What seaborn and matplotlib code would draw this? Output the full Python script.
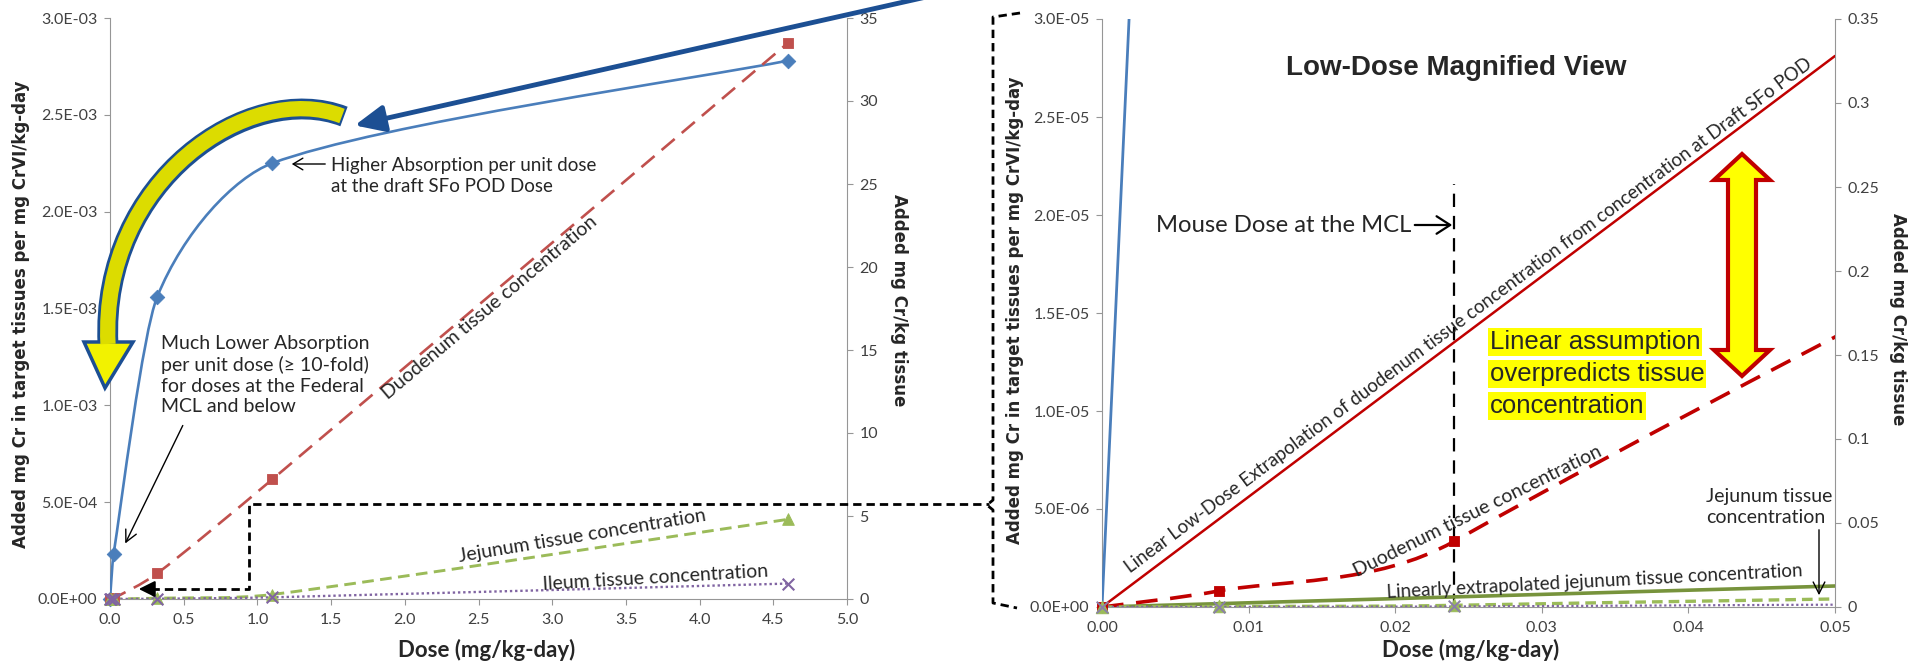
import numpy as np
import pandas as pd
import seaborn as sns
import matplotlib
matplotlib.use("Agg")
import matplotlib.pyplot as plt
from matplotlib.path import Path
from matplotlib.patches import PathPatch, FancyArrowPatch, Polygon
from matplotlib.lines import Line2D
from matplotlib.ticker import FuncFormatter

W, H = 1915, 666

# ---- data ----
dose = [0, 0.008, 0.024, 0.32, 1.1, 4.6]
duodenum = [0, 0.0096, 0.039, 1.54, 7.2, 33.5]      # mg Cr/kg tissue (right axis)
jejunum = [0, 0.0003, 0.001, 0.05, 0.27, 4.8]
ileum = [0, 0.0001, 0.0003, 0.015, 0.1, 0.93]

absorption_dose = [0, 0.024, 0.32, 1.1, 4.6]
absorption = [0, 2.3e-4, 1.56e-3, 2.25e-3, 2.78e-3]  # mg Cr per mg CrVI/kg-day (left axis)
low_absorption_dose = [0, 0.008]
low_absorption = [0, 1.3e-4]

# linear low-dose extrapolation from the POD
extrap_dose = [0, 0.05]
duodenum_linear = [0, 0.328]
jejunum_linear = [0, 0.0125]

mcl_dose = 0.024
mcl_top = 2.16e-5

BLUE = "#4A7EBB"
RED = "#C0504D"
DARKRED = "#C00000"
GREEN = "#9BBB59"
OLIVE = "#77933C"
PURPLE = "#8064A2"
NAVY = "#1C4F93"
GREY = "#969696"

sns.set_style("white")
plt.rcParams["font.family"] = ["Lato", "DejaVu Sans"]
FAM = ["Lato", "DejaVu Sans"]


def P(x, y):
    return (x / W, 1 - y / H)


def smooth_path(xs, ys):
    # excel style smoothed line as cubic bezier segments
    pts = np.column_stack([xs, ys]).astype(float)
    n = len(pts)
    verts = [pts[0]]
    codes = [Path.MOVETO]
    for i in range(n - 1):
        p0 = pts[max(i - 1, 0)]
        p1, p2 = pts[i], pts[i + 1]
        p3 = pts[min(i + 2, n - 1)]
        lim = (p2[0] - p1[0]) / 3
        t1 = (p2 - p0) / 6
        t2 = (p3 - p1) / 6
        if t1[0] > lim:
            t1 = t1 * lim / t1[0]
        if t2[0] > lim:
            t2 = t2 * lim / t2[0]
        verts += [p1 + t1, p2 - t2, p2]
        codes += [Path.CURVE4] * 3
    return Path(verts, codes)


def smooth_line(ax, xs, ys, **kw):
    ax.add_patch(PathPatch(smooth_path(xs, ys), fill=False, **kw))


def style(ax, ax2):
    for s in ["top", "right"]:
        ax.spines[s].set_visible(False)
    for s in ["top", "left", "bottom"]:
        ax2.spines[s].set_visible(False)
    for s in ["left", "bottom"]:
        ax.spines[s].set_color(GREY)
    ax2.spines["right"].set_color(GREY)
    ax.tick_params(left=True, bottom=True, length=4, color=GREY, labelcolor="#404040", labelsize=11.5)
    ax.tick_params(axis="x", pad=6)
    ax.tick_params(axis="y", pad=5)
    ax2.tick_params(right=True, left=False, bottom=False, length=4, color=GREY,
                    labelcolor="#404040", labelsize=11.5, pad=5)
    ax.set_xlabel("")
    ax.set_ylabel("")
    ax2.set_ylabel("")


def arrow(p0, p1, style_str, scale=14, **kw):
    fig.add_artist(FancyArrowPatch(P(*p0), P(*p1), transform=fig.transFigure,
                                   arrowstyle=style_str, mutation_scale=scale, **kw))


fig = plt.figure(figsize=(W / 100, H / 100), dpi=100)

# ---------------- full dose range ----------------
axL = fig.add_axes([110 / W, 1 - 599 / H, 737 / W, 581 / H])
axL2 = axL.twinx()

smooth_line(axL, absorption_dose, absorption, edgecolor=BLUE, lw=1.9, zorder=3)
sns.scatterplot(x=absorption_dose, y=absorption, ax=axL, marker="D", s=55, color=BLUE,
                edgecolor=BLUE, zorder=5, clip_on=False, legend=False)

smooth_line(axL2, dose, duodenum, edgecolor=RED, lw=1.9, linestyle=(0, (6.5, 3.5)), zorder=3)
smooth_line(axL2, dose, jejunum, edgecolor=GREEN, lw=2.1, linestyle=(0, (4, 2.2)), zorder=3)
smooth_line(axL2, dose, ileum, edgecolor=PURPLE, lw=1.7, linestyle=(0, (1, 1.2)), zorder=3)
sns.scatterplot(x=dose, y=duodenum, ax=axL2, marker="s", s=60, color=RED, edgecolor=RED,
                zorder=5, clip_on=False, legend=False)
sns.scatterplot(x=dose, y=jejunum, ax=axL2, marker="^", s=70, color=GREEN, edgecolor=GREEN,
                zorder=5, clip_on=False, legend=False)
sns.scatterplot(x=dose, y=ileum, ax=axL2, marker="x", s=70, color=PURPLE, linewidth=1.5,
                zorder=6, clip_on=False, legend=False)

axL.set_xlim(0, 5)
axL.set_ylim(0, 3e-3)
axL2.set_ylim(0, 35)
axL.set_xticks(np.arange(0, 5.01, 0.5))
axL.set_yticks(np.arange(0, 3.01e-3, 5e-4))
axL2.set_yticks(np.arange(0, 36, 5))
axL.xaxis.set_major_formatter(FuncFormatter(lambda v, _: f"{v:.1f}"))
axL.yaxis.set_major_formatter(FuncFormatter(lambda v, _: f"{v:.1E}"))
style(axL, axL2)

# ---------------- magnified view ----------------
axR = fig.add_axes([1102 / W, 1 - 607 / H, 733 / W, 588 / H])
axR2 = axR.twinx()

low = pd.DataFrame({"dose": dose, "duodenum": duodenum, "jejunum": jejunum, "ileum": ileum})
low = low[low["dose"] <= 0.05]

sns.lineplot(x=low_absorption_dose, y=low_absorption, ax=axR, color=BLUE, lw=2, zorder=3)
axR.vlines(mcl_dose, 0, mcl_top, color="black", lw=1.6, linestyles=[(0, (6, 4))], zorder=4)

sns.lineplot(x=extrap_dose, y=duodenum_linear, ax=axR2, color=DARKRED, lw=1.8, zorder=3)
sns.lineplot(x=extrap_dose, y=jejunum_linear, ax=axR2, color=OLIVE, lw=2.6, zorder=3)
smooth_line(axR2, dose, duodenum, edgecolor=DARKRED, lw=2.6, linestyle=(0, (6, 3.5)), zorder=3)
smooth_line(axR2, dose, jejunum, edgecolor=GREEN, lw=2.4, linestyle=(0, (3.2, 1.8)), zorder=3)
smooth_line(axR2, dose, ileum, edgecolor=PURPLE, lw=1.6, linestyle=(0, (1, 1.2)), zorder=3)
sns.scatterplot(data=low, x="dose", y="duodenum", ax=axR2, marker="s", s=60, color=DARKRED,
                edgecolor=DARKRED, zorder=5, clip_on=False, legend=False)
sns.scatterplot(data=low, x="dose", y="jejunum", ax=axR2, marker="^", s=80, color=GREEN,
                edgecolor=GREEN, zorder=5, clip_on=False, legend=False)
sns.scatterplot(data=low, x="dose", y="ileum", ax=axR2, marker="x", s=70, color="#8A7FA8",
                linewidth=1.4, zorder=6, clip_on=False, legend=False)

axR.set_xlim(0, 0.05)
axR.set_ylim(0, 3e-5)
axR2.set_ylim(0, 0.35)
axR.set_xticks(np.arange(0, 0.0501, 0.01))
axR.set_yticks(np.arange(0, 3.01e-5, 5e-6))
axR2.set_yticks(np.arange(0, 0.351, 0.05))
axR.xaxis.set_major_formatter(FuncFormatter(lambda v, _: f"{v:.2f}"))
axR.yaxis.set_major_formatter(FuncFormatter(lambda v, _: f"{v:.1E}"))
axR2.yaxis.set_major_formatter(FuncFormatter(lambda v, _: f"{round(v, 2):g}"))
style(axR, axR2)

# ---------------- axis titles ----------------
ylab = "Added mg Cr in target tissues per mg CrVI/kg-day"
rlab = "Added mg Cr/kg tissue"
lab_kw = dict(fontsize=12, fontweight="bold", family="DejaVu Sans", ha="center", va="center")
fig.text(*P(21, 314), ylab, rotation=90, **lab_kw)
fig.text(*P(899, 300), rlab, rotation=270, **lab_kw)
fig.text(*P(1015, 310), ylab, rotation=90, **lab_kw)
fig.text(*P(1898, 319), rlab, rotation=270, **lab_kw)
fig.text(*P(487, 650), "Dose (mg/kg-day)", fontsize=16, fontweight="bold", ha="center", va="center")
fig.text(*P(1471, 650), "Dose (mg/kg-day)", fontsize=16, fontweight="bold", ha="center", va="center")

# ---------------- annotations, full range ----------------
fig.text(*P(331, 176), "Higher Absorption per unit dose\nat the draft SFo POD Dose",
         fontsize=13.5, family=FAM, ha="left", va="center", linespacing=1.3)
arrow((328, 164), (289, 164), "->,head_length=0.5,head_width=0.3", lw=1, color="black")
fig.text(*P(161, 375), "Much Lower Absorption\nper unit dose (\u2265 10-fold)\nfor doses at the Federal\nMCL and below",
         fontsize=14, family=FAM, ha="left", va="center", linespacing=1.27)
arrow((184, 423), (124, 546), "->,head_length=0.6,head_width=0.3", lw=1, color="black")
fig.text(*P(490, 308), "Duodenum tissue concentration", rotation=40, rotation_mode="anchor",
         fontsize=14, ha="center", va="center")
fig.text(*P(582, 536), "Jejunum tissue concentration", rotation=9.5, rotation_mode="anchor",
         fontsize=14, ha="center", va="center")
fig.text(*P(655, 578), "Ileum tissue concentration", rotation=3.4, rotation_mode="anchor",
         fontsize=14, ha="center", va="center")

# curved yellow arrow: outlined cubic body plus a head
body = Path([P(342, 116), P(250, 80), P(100, 180), P(108, 344)],
            [Path.MOVETO, Path.CURVE4, Path.CURVE4, Path.CURVE4])
body_out = Path([P(344, 116.5), P(250, 80), P(100, 180), P(108, 344)],
                [Path.MOVETO, Path.CURVE4, Path.CURVE4, Path.CURVE4])
fig.add_artist(PathPatch(body_out, transform=fig.transFigure, fill=False, ec=NAVY, lw=15,
                         capstyle="butt", zorder=6))
fig.add_artist(Polygon([P(84, 342), P(133, 342), P(105, 388)], closed=True,
                       transform=fig.transFigure, fc="#F2F200", ec=NAVY, lw=2.5,
                       joinstyle="miter", zorder=6))
fig.add_artist(PathPatch(body, transform=fig.transFigure, fill=False, ec="#DCDC00", lw=11,
                         capstyle="butt", zorder=6))

# long navy arrow
arrow((935, -5), (352, 126), "-|>,head_length=1.0,head_width=0.45", scale=18, lw=3.5,
      color=NAVY, zorder=6)

# dashed bracket linking the two panels
dkw = dict(transform=fig.transFigure, color="black", lw=2, linestyle=(0, (3, 1.8)), zorder=6)
xs, ys = zip(*[P(151, 589), P(249, 589), P(249, 504), P(989, 504)])
fig.add_artist(Line2D(xs, ys, **dkw))
arrow((156, 589), (136, 589), "-|>,head_length=0.7,head_width=0.35", lw=1.5, color="black", zorder=6)
xs, ys = zip(*[P(1020, 13), P(993, 17), P(993, 500), P(987, 505), P(993, 510), P(993, 603), P(1017, 608)])
fig.add_artist(Line2D(xs, ys, **dkw))

# ---------------- annotations, magnified view ----------------
fig.text(*P(1456, 68), "Low-Dose Magnified View", fontsize=20, fontweight="bold",
         family="Liberation Sans", ha="center", va="center")
fig.text(*P(1411, 225), "Mouse Dose at the MCL", fontsize=17.2, ha="right", va="center")
arrow((1412, 225), (1455, 225), "->,head_length=0.7,head_width=0.45", lw=1.6, color="black")
fig.text(*P(1468, 316),
         "Linear Low-Dose Extrapolation of duodenum tissue concentration from concentration at Draft SFo POD",
         rotation=36.6, rotation_mode="anchor", fontsize=13.4, ha="center", va="center")
fig.text(*P(1478, 511), "Duodenum tissue concentration", rotation=26.3, rotation_mode="anchor",
         fontsize=14, ha="center", va="center")
fig.text(*P(1595, 582), "Linearly extrapolated jejunum tissue concentration", rotation=3,
         rotation_mode="anchor", fontsize=13.5, ha="center", va="center")
fig.text(*P(1706, 507), "Jejunum tissue\nconcentration", fontsize=14, ha="left", va="center",
         linespacing=1.3)
arrow((1819, 527), (1819, 598), "->,head_length=0.6,head_width=0.3", lw=1, color="black")

for yy, line in zip([342, 374, 406], ["Linear assumption", "overpredicts tissue", "concentration"]):
    fig.text(*P(1490, yy), line, fontsize=18.5, family="Liberation Sans", ha="left", va="center",
             bbox=dict(boxstyle="square,pad=0.06", fc="#FFFF00", ec="none"))

arrow_pts = [(1742, 154), (1770, 180), (1756, 180), (1756, 350), (1770, 350), (1742, 376),
             (1714, 350), (1728, 350), (1728, 180), (1714, 180)]
fig.add_artist(Polygon([P(x, y) for x, y in arrow_pts], closed=True, transform=fig.transFigure,
                       fc="#FFFF00", ec=DARKRED, lw=3, joinstyle="miter", zorder=6))

fig.savefig("out.png", dpi=100, facecolor="white")
